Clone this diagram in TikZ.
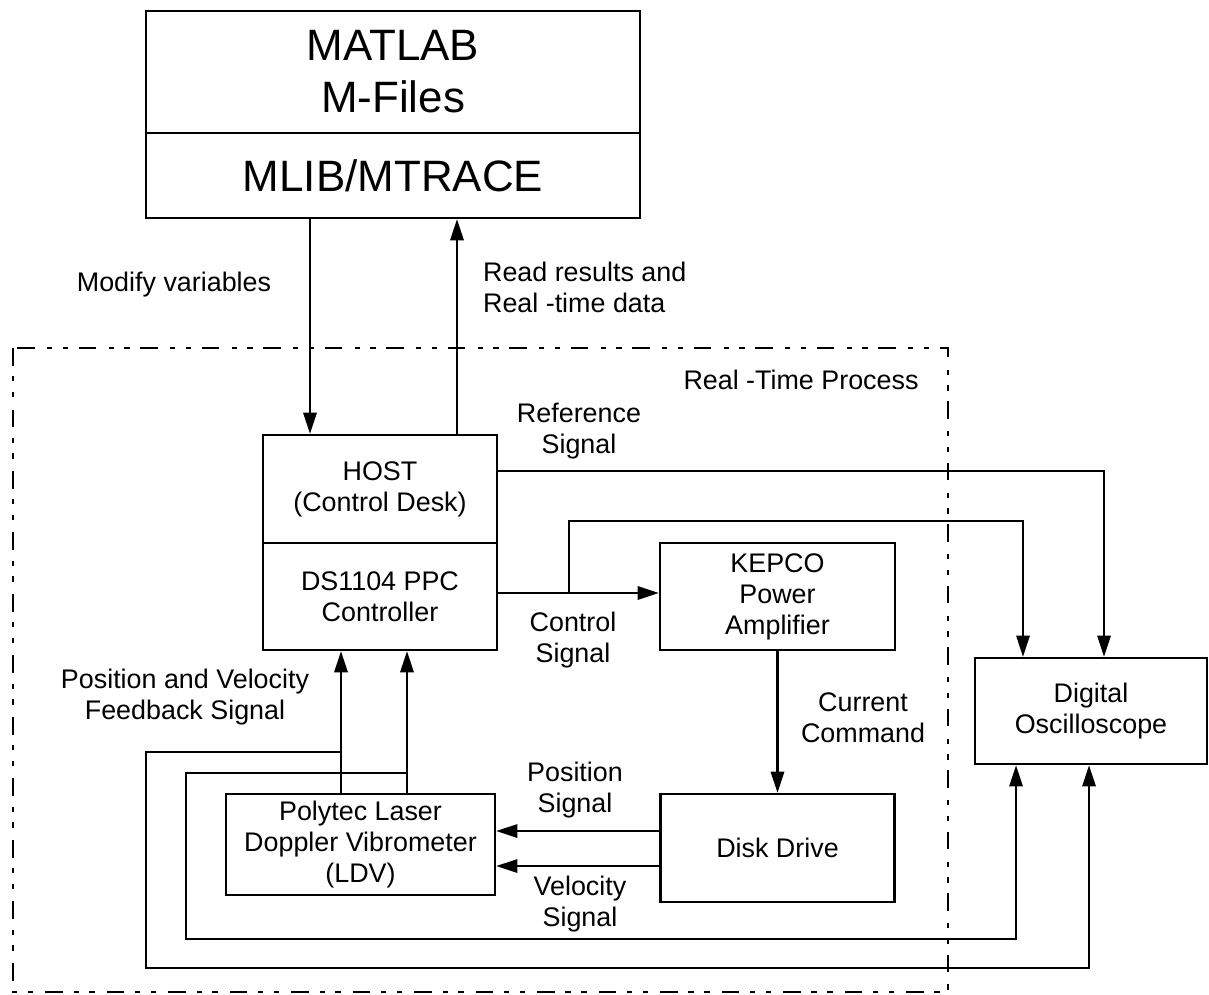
\documentclass[tikz,border=0pt]{standalone}
\usepackage{fontspec}
\setmainfont{Liberation Sans}
\usetikzlibrary{arrows.meta}

\begin{document}
\begin{tikzpicture}[x=0.02cm, y=-0.02cm, line width=1.4pt,
    block/.style = {draw, align=center, inner sep=0pt, font=\fontsize{15.3}{17.6}\selectfont},
    big/.style = {draw, align=center, inner sep=0pt, font=\fontsize{25}{29.5}\selectfont},
    lbl/.style = {align=center, font=\fontsize{15.3}{17.6}\selectfont},
    sig/.style = {-{Triangle[length=12pt,width=7.5pt]}},
    rtframe/.style = {dash pattern=on 10pt off 6pt on 3pt off 6pt on 3pt off 7pt}]
    \useasboundingbox (0,0) rectangle (1209,994);

    \node[big, minimum width=9.88cm, minimum height=2.44cm] (matlab) at (393,72) {MATLAB\\M-Files};
    \node[big, minimum width=9.88cm, minimum height=1.70cm] (mlib) at (393,175.5) {MLIB/MTRACE};

    \draw[rtframe] (13,348) rectangle (948,992);

    \node[block, minimum width=4.68cm, minimum height=2.16cm] (host) at (380,489) {HOST\\(Control Desk)};
    \node[block, minimum width=4.68cm, minimum height=2.14cm] (ds) at (380,596.5) {DS1104 PPC\\Controller};
    \node[block, minimum width=4.70cm, minimum height=2.14cm] (kepco) at (777.5,596.5) {KEPCO\\Power\\Amplifier};
    \node[block, minimum width=4.68cm, minimum height=2.16cm] (disk) at (777.5,848) {Disk Drive};
    \node[block, minimum width=5.38cm, minimum height=2.02cm] (ldv) at (360.5,844.5) {Polytec Laser\\Doppler Vibrometer\\(LDV)};
    \node[block, minimum width=4.64cm, minimum height=2.12cm] (osc) at (1091,711) {Digital\\Oscilloscope};

    \node[lbl] (lblmod) at (174,285) {Modify variables};
    \node[lbl, align=left, anchor=west] (lblread) at (476,287) {Read results and\\Real -time data};
    \node[lbl] (lblrt) at (801,380) {Real -Time Process};
    \node[lbl] (lblref) at (579,431) {Reference\\Signal};
    \node[lbl] (lblctrl) at (573,640) {Control\\Signal};
    \node[lbl] (lblcur) at (863,718) {Current\\Command};
    \node[lbl] (lblpos) at (575,790) {Position\\Signal};
    \node[lbl] (lblvel) at (580,904) {Velocity\\Signal};
    \node[lbl] (lblfb) at (185,697) {Position and Velocity\\Feedback Signal};

    \coordinate (tapC) at (569,593);
    \coordinate (tapP) at (341,752);
    \coordinate (tapV) at (407,773);

    \draw[sig] (mlib.south -| 310,0) -- (host.north -| 310,0);
    \draw[sig] (host.north -| 457,0) -- (mlib.south -| 457,0);
    \draw[sig] (host.east |- 0,471) -| (osc.north -| 1104,0);
    \draw[sig] (ds.east |- 0,593) -- (kepco.west |- 0,593);
    \draw[sig] (tapC) |- (1023,521) -- (osc.north -| 1023,0);
    \draw[sig] (kepco) -- (disk);
    \draw[sig] (disk.west |- 0,831) -- (ldv.east |- 0,831);
    \draw[sig] (disk.west |- 0,866) -- (ldv.east |- 0,866);
    \draw[sig] (ldv.north -| 341,0) -- (ds.south -| 341,0);
    \draw[sig] (ldv.north -| 407,0) -- (ds.south -| 407,0);
    \draw[sig] (tapP) -| (146,968) -| (osc.south -| 1089,0);
    \draw[sig] (tapV) -| (186,939) -| (osc.south -| 1016,0);
\end{tikzpicture}
\end{document}
